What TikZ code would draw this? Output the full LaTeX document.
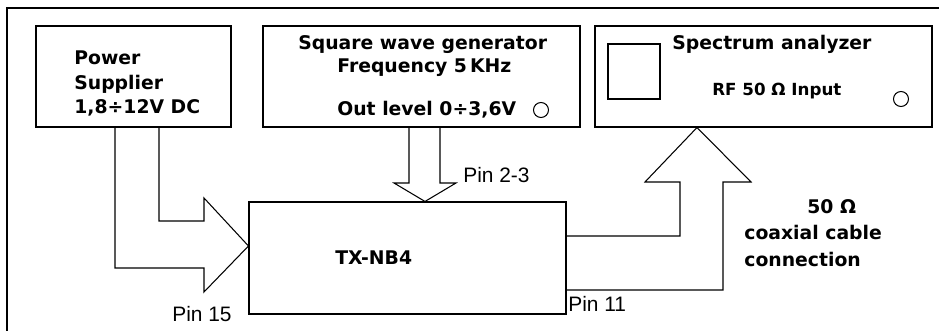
\documentclass[tikz,border=0pt]{standalone}
\usepackage{fontspec}
\setmainfont{DejaVu Sans}
\newfontfamily\pinfont{Liberation Sans}
\tikzset{
	unit/.style={rectangle,draw,line width=0.6pt,inner sep=0pt},
	label/.style={font=\fontsize{10.7}{14}\selectfont\bfseries,inner sep=0pt,anchor=base west},
	pinlabel/.style={font=\pinfont\fontsize{11.9}{14}\selectfont,inner sep=0pt,anchor=base west},
	blockarrow/.style={draw,line width=0.6pt,line join=miter},
}
\begin{document}
\begin{tikzpicture}
				\useasboundingbox (0,0) rectangle (18.78,-6.62);
				\draw [line width=1.4pt] (0.14,-6.62) -- (0.14,-0.16) -- (18.78,-0.16);
				
				\begin{scope}[every node/.style={unit}]
					\node [minimum width=3.9cm,minimum height=2.02cm] (supply) at (2.67,-1.53) {};
					\node [minimum width=6.34cm,minimum height=2.02cm] (generator) at (8.43,-1.53) {};
					\node [minimum width=6.74cm,minimum height=2.02cm] (analyzer) at (15.27,-1.53) {};
					\node [minimum width=1.04cm,minimum height=1.1cm] (screen) at (12.68,-1.43) {};
					\node [circle,minimum size=0.3cm] (genout) at (10.82,-2.20) {};
					\node [circle,minimum size=0.3cm] (rfin) at (18.02,-1.98) {};
					\node [minimum width=6.34cm,minimum height=2.24cm] (txnb) at (8.15,-5.16) {};
				\end{scope}
				
				\node [label] (supply1) at (1.48,-1.30) {Power};
				\node [label] (supply2) at (1.48,-1.80) {Supplier};
				\node [label] (supply3) at (1.48,-2.27) {1,8÷12V DC};
				\node [label] (gen1) at (5.96,-1.00) {Square wave generator};
				\node [label] (gen2) at (6.74,-1.46) {Frequency 5\,KHz};
				\node [label] (gen3) at (6.74,-2.32) {Out level 0÷3,6V};
				\node [label] (ana1) at (13.44,-1.00) {Spectrum analyzer};
				\node [label,font=\fontsize{9.5}{12}\selectfont\bfseries] (ana2) at (14.24,-1.92) {RF 50 Ω Input};
				\node [label] (txname) at (6.70,-5.30) {TX-NB4};
				\node [label] (coax1) at (16.14,-4.28) {50 Ω};
				\node [label] (coax2) at (14.88,-4.80) {coaxial cable};
				\node [label] (coax3) at (14.88,-5.34) {connection};
				
				\node [pinlabel] (pin15) at (3.44,-6.44) {Pin 15};
				\node [pinlabel] (pin23) at (9.26,-3.66) {Pin 2-3};
				\node [pinlabel] (pin11) at (11.36,-6.24) {Pin 11};
				
				\draw [blockarrow] (2.30,0 |- supply.south) -- (2.30,-5.36) -- (4.08,-5.36) -- (4.08,-5.84) -- (txnb.west |- 0,-4.92) -- (4.08,-3.96) -- (4.08,-4.42) -- (3.18,-4.42) -- (3.18,0 |- supply.south);
				\draw [blockarrow] (8.18,0 |- generator.south) -- (8.18,-3.66) -- (7.88,-3.66) -- (8.50,0 |- txnb.north) -- (9.12,-3.66) -- (8.80,-3.66) -- (8.80,0 |- generator.south);
				\draw [blockarrow] (txnb.east |- 0,-4.72) -- (13.60,-4.72) -- (13.60,-3.64) -- (12.90,-3.64) -- (13.94,0 |- analyzer.south) -- (15.02,-3.64) -- (14.46,-3.64) -- (14.46,-5.80) -- (txnb.east |- 0,-5.80);
			\end{tikzpicture}
\end{document}
